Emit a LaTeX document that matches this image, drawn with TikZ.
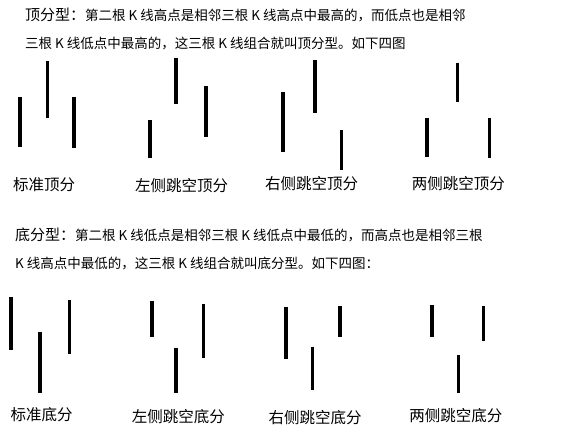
\documentclass[tikz,border=0pt]{standalone}
\usepackage{fontspec}
\setmainfont{Noto Sans CJK SC}
\newcommand\hdtitle[1]{{\fontsize{15}{16}\selectfont #1}}
\begin{document}
\begin{tikzpicture}[x=1pt, y=-1pt,
    kbar/.style={line width=3.6pt, color=black},
    hdr/.style={anchor=west, inner sep=0pt, font=\fontsize{13.5}{14}\selectfont},
    lbl/.style={inner sep=0pt, font=\fontsize{15.5}{16}\selectfont}]
    \useasboundingbox (0,0) rectangle (569,440);

    % top fractal
    \node (tophd1) [hdr] at (25,15) {\hdtitle{顶分型：}第二根 K 线高点是相邻三根 K 线高点中最高的，而低点也是相邻};
    \node (tophd2) [hdr] at (25,44) {三根 K 线低点中最高的，这三根 K 线组合就叫顶分型。如下四图};

    \draw [kbar] (20,96.7) -- (20,146.7);
    \draw [kbar] (47.3,61) -- (47.3,117.7);
    \draw [kbar] (73.7,96.7) -- (73.7,147.7);
    \node (top1) [lbl] at (44,185) {标准顶分};

    \draw [kbar] (150,120) -- (150,158.3);
    \draw [kbar] (176,58.3) -- (176,104.3);
    \draw [kbar] (206,86) -- (206,136.7);
    \node (top2) [lbl] at (181.7,186) {左侧跳空顶分};

    \draw [kbar] (282.7,91.7) -- (282.7,151.7);
    \draw [kbar] (315,60) -- (315,113.3);
    \draw [kbar] (341.3,130) -- (341.3,170);
    \node (top3) [lbl] at (311.7,184) {右侧跳空顶分};

    \draw [kbar] (426.7,117.7) -- (426.7,156.7);
    \draw [kbar] (457.3,62.7) -- (457.3,101.7);
    \draw [kbar] (489.3,118.3) -- (489.3,158.3);
    \node (top4) [lbl] at (458.3,184) {两侧跳空顶分};

    % bottom fractal
    \node (bothd1) [hdr] at (15,235) {\hdtitle{底分型：}第二根 K 线低点是相邻三根 K 线低点中最低的，而高点也是相邻三根};
    \node (bothd2) [hdr] at (15,264) {K 线高点中最低的，这三根 K 线组合就叫底分型。如下四图：};

    \draw [kbar] (11,297.3) -- (11,350);
    \draw [kbar] (40,331.7) -- (40,393.3);
    \draw [kbar] (69.3,300) -- (69.3,354);
    \node (bot1) [lbl] at (41.7,415) {标准底分};

    \draw [kbar] (152,300.7) -- (152,336.7);
    \draw [kbar] (175.7,348.3) -- (175.7,392.7);
    \draw [kbar] (203.3,304.3) -- (203.3,358.3);
    \node (bot2) [lbl] at (178.3,416.7) {左侧跳空底分};

    \draw [kbar] (286,307.3) -- (286,359);
    \draw [kbar] (312.3,346.7) -- (312.3,390);
    \draw [kbar] (340,305.7) -- (340,337.3);
    \node (bot3) [lbl] at (315,417.3) {右侧跳空底分};

    \draw [kbar] (431.7,305) -- (431.7,337.3);
    \draw [kbar] (458.3,355) -- (458.3,392.7);
    \draw [kbar] (483.3,306) -- (483.3,341);
    \node (bot4) [lbl] at (455.8,416) {两侧跳空底分};
\end{tikzpicture}
\end{document}
